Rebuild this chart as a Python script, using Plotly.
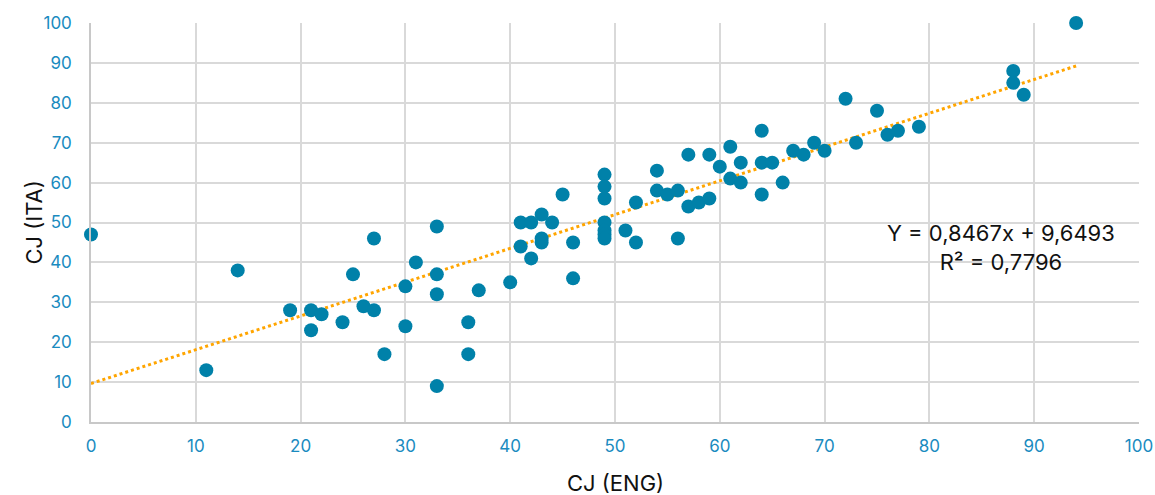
import plotly.graph_objects as go

cj_eng = [0, 11, 14, 19, 21, 21, 22, 24, 25, 26, 27, 27, 28, 30, 30, 31, 33, 33, 33, 33,
          36, 36, 37, 40, 41, 41, 42, 42, 43, 43, 43, 44, 45, 46, 46,
          49, 49, 49, 49, 49, 49, 49, 51, 52, 52, 54, 54, 55, 56, 56, 57, 57, 58, 59, 59,
          60, 61, 61, 62, 62, 64, 64, 64, 65, 66, 67, 68, 69, 70, 72, 73, 75, 76, 77, 79,
          88, 88, 89, 94]
cj_ita = [47, 13, 38, 28, 28, 23, 27, 25, 37, 29, 46, 28, 17, 34, 24, 40, 49, 37, 32, 9,
          25, 17, 33, 35, 50, 44, 50, 41, 52, 46, 45, 50, 57, 45, 36,
          62, 59, 56, 50, 48, 47, 46, 48, 55, 45, 63, 58, 57, 58, 46, 67, 54, 55, 67, 56,
          64, 69, 61, 65, 60, 73, 65, 57, 65, 60, 68, 67, 70, 68, 81, 70, 78, 72, 73, 74,
          88, 85, 82, 100]

slope = 0.8467
intercept = 9.6493
r2 = 0.7796
trend_x = [0, 94]
trend_y = [intercept + slope * v for v in trend_x]

tick_vals = list(range(0, 101, 10))

font_family = "Inter, Liberation Sans, Arial, sans-serif"
tick_color = "#1A8BBF"
grid_color = "#D9D9D9"
text_color = "#111111"

fig = go.Figure()
fig.add_trace(go.Scatter(
    x=trend_x, y=trend_y, mode="lines",
    line=dict(color="#FFA500", width=3, dash="dot"),
    hoverinfo="skip", showlegend=False))
fig.add_trace(go.Scatter(
    x=cj_eng, y=cj_ita, mode="markers", cliponaxis=False,
    marker=dict(color="#0081A9", size=14, line=dict(width=0)),
    showlegend=False))

fig.add_annotation(
    x=86.8, y=43.7, xref="x", yref="y",
    text="Y = 0,8467x + 9,6493<br>R² = " + "0,7796",
    showarrow=False, align="center",
    font=dict(family=font_family, size=22, color=text_color))

# axis titles
fig.add_annotation(
    x=0.5, y=0, xref="paper", yref="paper", yshift=-61,
    text="CJ (ENG)", showarrow=False, yanchor="middle",
    font=dict(family=font_family, size=22, color=text_color))
fig.add_annotation(
    x=0, y=0.5, xref="paper", yref="paper", xshift=-58,
    text="CJ (ITA)", showarrow=False, textangle=-90, xanchor="center", yanchor="middle",
    font=dict(family=font_family, size=22, color=text_color))

fig.update_layout(
    width=1155, height=495,
    margin=dict(l=91, r=16, t=23, b=73, autoexpand=False),
    paper_bgcolor="white", plot_bgcolor="white",
    font=dict(family=font_family),
)
fig.update_xaxes(
    range=[0, 100], tickvals=tick_vals, showgrid=True, gridcolor=grid_color, gridwidth=1.5,
    zeroline=False, showline=True, linecolor="#C8C8C8", linewidth=1.5, automargin=False,
    tickfont=dict(family=font_family, size=17, color=tick_color), ticks="",
    ticklabelstandoff=8, ticklabeloverflow="allow",
)
fig.update_yaxes(
    range=[0, 100], tickvals=tick_vals, showgrid=True, gridcolor=grid_color, gridwidth=1.5,
    zeroline=False, showline=True, linecolor="#C8C8C8", linewidth=1.5, automargin=False,
    tickfont=dict(family=font_family, size=17, color=tick_color), ticks="",
    ticklabelstandoff=14, ticklabeloverflow="allow",
)

fig.write_html(
    "out.html",
    config={"displayModeBar": False},
    post_script="document.body.style.margin='0';document.body.style.overflow='hidden';",
)
